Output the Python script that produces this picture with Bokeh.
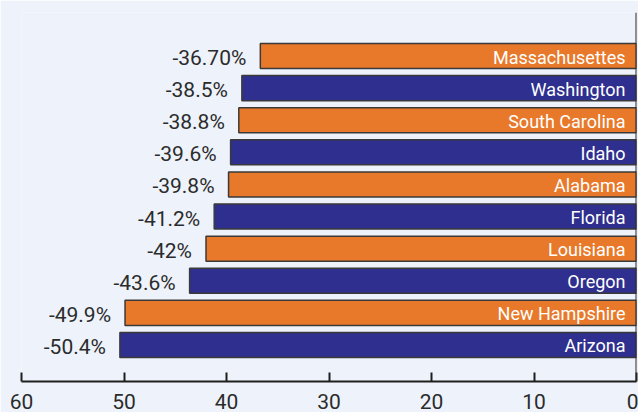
from bokeh.plotting import figure
from bokeh.models import Range1d, FixedTicker, ColumnDataSource, Span
from bokeh.core.properties import value
from bokeh.embed import file_html
from bokeh.resources import INLINE

states = ["Massachusettes", "Washington", "South Carolina", "Idaho", "Alabama",
          "Florida", "Louisiana", "Oregon", "New Hampshire", "Arizona"]
declines = [36.7, 38.5, 38.8, 39.6, 39.8, 41.2, 42.0, 43.6, 49.9, 50.4]
value_labels = ["-36.70%", "-38.5%", "-38.8%", "-39.6%", "-39.8%",
                "-41.2%", "-42%", "-43.6%", "-49.9%", "-50.4%"]
tick_values = [0, 10, 20, 30, 40, 50, 60]

ORANGE = "#E8792A"
NAVY = "#2E2F8E"
BG = "#EEF3FB"
FONT = "Roboto"

n = len(states)
ypos = [n - 1 - i for i in range(n)]
colors = [ORANGE if i % 2 == 0 else NAVY for i in range(n)]

src = ColumnDataSource(dict(state=states, val=declines, lab=value_labels,
                            y=ypos, color=colors, zero=[0] * n))

p = figure(width=638, height=412, output_backend="svg", toolbar_location=None,
           x_range=Range1d(60, 0), y_range=Range1d(-1.137, 10.355),
           y_axis_location=None,
           min_border_left=21, min_border_right=2, min_border_top=12,
           min_border_bottom=31,
           background_fill_color=BG, border_fill_color=BG,
           outline_line_color=None)
p.xgrid.visible = False
p.ygrid.visible = False

p.hbar(y="y", left="val", right="zero", height=0.78, fill_color="color",
       line_color="#3A3A3A", line_width=1.5, source=src)

p.text(x="val", y="y", text="lab", source=src, text_align="right",
       text_baseline="middle", x_offset=-14, y_offset=2,
       text_font=value(FONT), text_font_size="21px", text_color="#2B2B2B")

p.text(x="zero", y="y", text="state", source=src, text_align="right",
       text_baseline="middle", x_offset=-11, y_offset=1,
       text_font=value(FONT), text_font_size="18px", text_color="white")

p.add_layout(Span(location=0, dimension="height", line_color="#2B2B2B",
                  line_width=2))

ax = p.xaxis[0]
ax.ticker = FixedTicker(ticks=tick_values)
ax.axis_line_color = "#1E1E1E"
ax.axis_line_width = 2
ax.major_tick_in = 9
ax.major_tick_out = 0
ax.major_tick_line_width = 2
ax.major_tick_line_color = "#1E1E1E"
ax.minor_tick_line_color = None
ax.major_label_standoff = 12
ax.major_label_text_font = FONT
ax.major_label_text_font_size = "21px"
ax.major_label_text_color = "#2B2B2B"

open("out.html", "w").write(file_html(p, INLINE))
